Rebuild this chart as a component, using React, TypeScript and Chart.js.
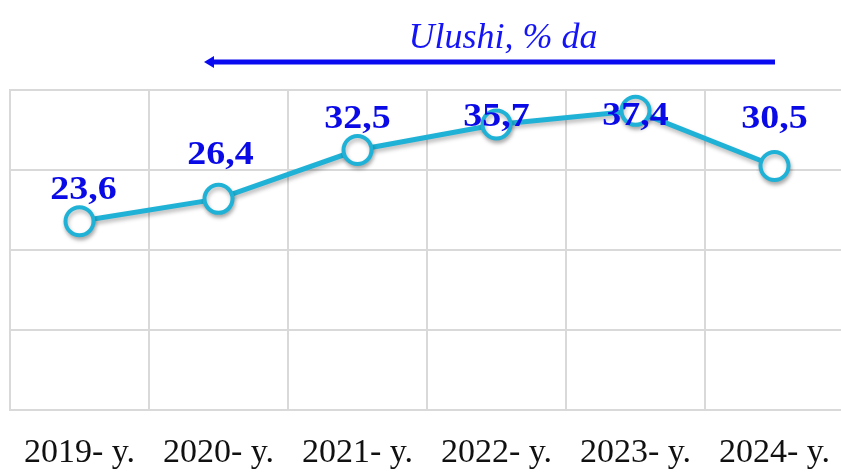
import React, { useEffect, useRef } from "react";
import { Chart, registerables } from "chart.js";

Chart.register(...registerables);

const categories = ["2019- y.", "2020- y.", "2021- y.", "2022- y.", "2023- y.", "2024- y."];
const shares = [23.6, 26.4, 32.5, 35.7, 37.4, 30.5];
const valueLabels = ["23,6", "26,4", "32,5", "35,7", "37,4", "30,5"];
const titleText = "Ulushi, % da";

const LINE_COLOR = "#1fb2d6";
const LABEL_COLOR = "#0a0ae6";
const SHIFT = 8;

const headerPlugin = {
  id: "header",
  afterDraw(chart: any) {
    const ctx = chart.ctx;
    ctx.save();
    ctx.translate(SHIFT, 0);
    ctx.fillStyle = "#1414f5";
    ctx.font = "italic 36px 'Liberation Serif', 'Times New Roman', serif";
    ctx.textAlign = "center";
    ctx.textBaseline = "alphabetic";
    ctx.fillText(titleText, 503, 48);
    ctx.strokeStyle = "#0a0af0";
    ctx.lineWidth = 5;
    ctx.beginPath();
    ctx.moveTo(212, 62);
    ctx.lineTo(775, 62);
    ctx.stroke();
    ctx.fillStyle = "#0a0af0";
    ctx.beginPath();
    ctx.moveTo(204, 62);
    ctx.lineTo(214, 56);
    ctx.lineTo(214, 68);
    ctx.closePath();
    ctx.fill();
    ctx.restore();
  },
};

const shadowPlugin = {
  id: "shadow",
  beforeDatasetsDraw(chart: any) {
    const ctx = chart.ctx;
    ctx.save();
    ctx.shadowColor = "rgba(0,0,0,0.28)";
    ctx.shadowBlur = 4;
    ctx.shadowOffsetX = 1;
    ctx.shadowOffsetY = 3;
  },
  afterDatasetsDraw(chart: any) {
    chart.ctx.restore();
  },
};

const valueLabelPlugin = {
  id: "valueLabels",
  afterDatasetsDraw(chart: any, _args: any, opts: any) {
    const ctx = chart.ctx;
    const meta = chart.getDatasetMeta(0);
    ctx.save();
    ctx.fillStyle = LABEL_COLOR;
    ctx.font = "bold 33px 'Liberation Serif', 'Times New Roman', serif";
    ctx.textAlign = "center";
    ctx.textBaseline = "alphabetic";
    meta.data.forEach((pt: any, i: number) => {
      const dx = opts.dx[i] || 0;
      const dy = opts.dy[i] || 0;
      ctx.save();
      ctx.translate(pt.x + dx, pt.y + dy);
      ctx.scale(1.15, 1);
      ctx.fillText(valueLabels[i], 0, 0);
      ctx.restore();
    });
    ctx.restore();
  },
};

export default function App() {
  const ref = useRef<HTMLCanvasElement | null>(null);
  useEffect(() => {
    if (!ref.current) return;
    const chart = new Chart(ref.current, {
      type: "line",
      data: {
        labels: categories,
        datasets: [
          {
            data: shares,
            borderColor: LINE_COLOR,
            borderWidth: 5,
            pointRadius: 14,
            pointBorderWidth: 4,
            pointBackgroundColor: "#ffffff",
            pointBorderColor: LINE_COLOR,
            tension: 0,
          },
        ],
      },
      options: {
        animation: false,
        responsive: false,
        devicePixelRatio: 1,
        layout: { padding: { left: 2, right: 2, top: 90, bottom: 0 } },
        plugins: {
          legend: { display: false },
          tooltip: { enabled: false },
          valueLabels: { dx: [4, 2, 0, 0, 0, 0], dy: [-22, -35, -22, 2, 14, -38] },
        } as any,
        scales: {
          x: {
            offset: true,
            grid: { offset: true, color: "#d9d9d9", lineWidth: 2, drawTicks: false },
            border: { display: true, color: "#d9d9d9", width: 2 },
            ticks: {
              color: "#111111",
              font: { family: "'Liberation Serif', 'Times New Roman', serif", size: 34 },
              padding: 22,
              maxRotation: 0,
              autoSkip: false,
            },
          },
          y: {
            min: 0,
            max: 40,
            ticks: { stepSize: 10, display: false },
            grid: { color: "#d9d9d9", lineWidth: 2, drawTicks: false },
            border: { display: true, color: "#d9d9d9", width: 2 },
          },
        },
      },
      plugins: [headerPlugin, shadowPlugin, valueLabelPlugin],
    });
    return () => chart.destroy();
  }, []);
  return (
    <div
      style={{
        position: "fixed",
        left: 0,
        top: 0,
        width: 841,
        height: 473,
        overflow: "hidden",
        background: "#ffffff",
      }}
    >
      <canvas ref={ref} width={870} height={495} style={{ marginLeft: -SHIFT, display: "block" }} />
    </div>
  );
}
